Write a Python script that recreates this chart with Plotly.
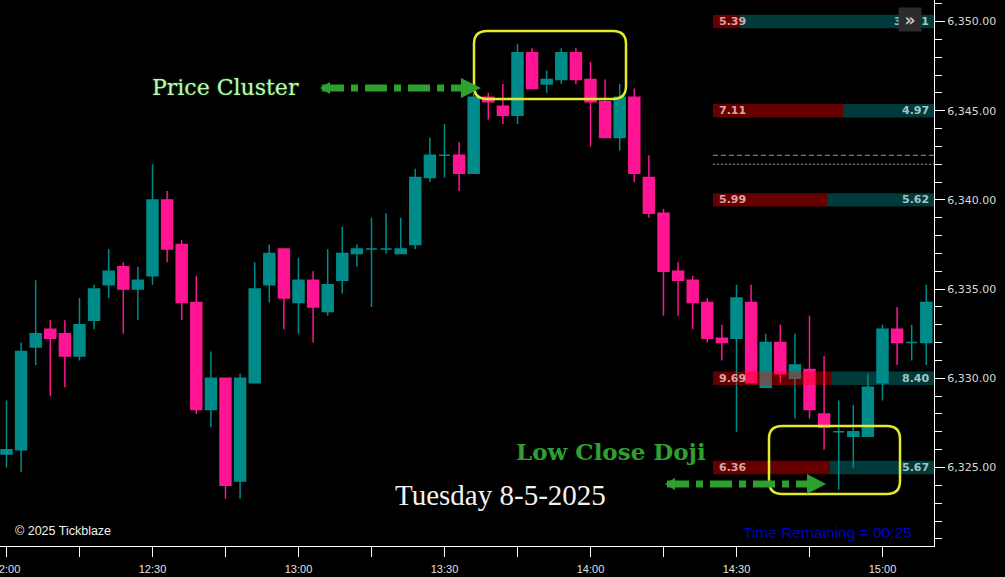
import plotly.graph_objects as go
import pandas as pd

# ---------------- data ----------------
times = pd.date_range("2025-08-05 12:00", periods=64, freq="3min")

opens = [6325.75, 6326.0, 6331.75, 6332.75, 6332.5, 6331.25, 6333.25, 6335.25, 6336.25, 6335.0,
         6335.75, 6340.0, 6337.5, 6334.25, 6328.25, 6330.0, 6324.25, 6329.75, 6335.25, 6337.25,
         6334.25, 6335.5, 6333.75, 6335.5, 6337.0, 6337.25, 6337.25, 6337.0, 6337.5, 6341.25,
         6342.5, 6342.5, 6341.5, 6345.75, 6345.25, 6344.75, 6348.25, 6346.5, 6346.75, 6348.25,
         6346.75, 6345.5, 6343.5, 6345.75, 6341.25, 6339.25, 6336.0, 6335.5, 6334.25, 6332.25,
         6332.25, 6334.25, 6329.5, 6332.0, 6330.0, 6330.5, 6328.0, 6327.0, 6326.75, 6326.75,
         6329.75, 6332.75, 6332.0, 6332.0]
highs = [6328.75, 6332.0, 6335.5, 6333.25, 6333.25, 6334.5, 6335.25, 6337.25, 6336.5, 6336.25,
         6342.0, 6340.5, 6337.75, 6335.75, 6331.5, 6330.0, 6330.25, 6336.5, 6337.5, 6337.25,
         6336.75, 6336.0, 6337.25, 6338.5, 6337.5, 6339.0, 6339.25, 6339.0, 6341.75, 6343.5,
         6344.25, 6343.25, 6346.0, 6346.0, 6346.5, 6348.75, 6348.5, 6347.25, 6348.5, 6348.5,
         6347.75, 6346.75, 6346.5, 6346.25, 6342.5, 6339.5, 6336.5, 6335.75, 6334.5, 6333.0,
         6335.25, 6335.25, 6332.5, 6333.0, 6332.5, 6333.5, 6331.25, 6328.75, 6328.5, 6330.25,
         6333.0, 6334.0, 6333.0, 6335.25]
lows = [6325.0, 6324.75, 6330.75, 6329.0, 6329.5, 6331.0, 6332.75, 6334.5, 6332.5, 6333.25,
        6335.25, 6336.5, 6333.25, 6328.0, 6327.25, 6323.25, 6323.25, 6329.75, 6334.25, 6332.75,
        6332.5, 6332.0, 6333.5, 6334.75, 6336.25, 6334.0, 6337.0, 6337.0, 6337.25, 6341.0,
        6341.25, 6340.5, 6341.5, 6344.5, 6344.25, 6344.25, 6346.25, 6346.0, 6346.5, 6346.5,
        6343.0, 6343.5, 6342.75, 6341.0, 6339.0, 6333.5, 6333.5, 6332.75, 6332.0, 6331.0,
        6327.0, 6329.75, 6329.5, 6329.75, 6327.75, 6327.75, 6326.0, 6323.75, 6325.0, 6326.75,
        6328.75, 6330.75, 6331.0, 6330.75]
closes = [6326.0, 6331.5, 6332.5, 6332.25, 6331.25, 6333.0, 6335.0, 6336.0, 6335.0, 6335.5,
          6340.0, 6337.25, 6334.25, 6328.25, 6330.0, 6324.0, 6330.0, 6335.0, 6337.0, 6334.5,
          6335.5, 6334.0, 6335.25, 6337.0, 6337.25, 6337.25, 6337.25, 6337.25, 6341.25, 6342.5,
          6342.5, 6341.5, 6345.75, 6345.5, 6344.75, 6348.25, 6346.25, 6346.75, 6348.25, 6346.75,
          6345.5, 6343.5, 6345.75, 6341.5, 6339.25, 6336.0, 6335.5, 6334.25, 6332.25, 6332.0,
          6334.5, 6329.75, 6332.0, 6330.25, 6330.75, 6328.25, 6327.25, 6327.0, 6327.0, 6329.5,
          6332.75, 6332.0, 6332.0, 6334.25]

# right-side level bars (sell / buy figures)
levels = [6350, 6345, 6340, 6330, 6325]
sell_vals = [5.39, 7.11, 5.99, 9.69, 6.36]
buy_vals = [38.71, 4.97, 5.62, 8.40, 5.67]
dash_level = 6342.5
dot_level = 6342.0

x_tick_labels = ["12:00", "12:30", "13:00", "13:30", "14:00", "14:30", "15:00"]

# ---------------- styling / geometry ----------------
TEAL = "#008B8B"
PINK = "#FF1493"
PW, PH = 934, 546  # plot area in pixels


def px(x):
    return x / PW


def py(y):
    return 1 - y / PH


def rrect(x0, y0, x1, y1, r):
    p = lambda x, y: f"{px(x):.5f},{py(y):.5f}"
    return (f"M{p(x0 + r, y0)} L{p(x1 - r, y0)} Q{p(x1, y0)} {p(x1, y0 + r)} "
            f"L{p(x1, y1 - r)} Q{p(x1, y1)} {p(x1 - r, y1)} L{p(x0 + r, y1)} "
            f"Q{p(x0, y1)} {p(x0, y1 - r)} L{p(x0, y0 + r)} Q{p(x0, y0)} {p(x0 + r, y0)} Z")


def tri(pts):
    s = " L".join(f"{px(x):.5f},{py(y):.5f}" for x, y in pts)
    return "M" + s + " Z"


# split dojis (drawn teal) from the rest
is_doji = [o == c for o, c in zip(opens, closes)]
idx_main = [i for i in range(len(opens)) if not is_doji[i]]
idx_doji = [i for i in range(len(opens)) if is_doji[i]]

fig = go.Figure()

fig.add_trace(go.Candlestick(
    x=[times[i] for i in idx_main],
    open=[opens[i] for i in idx_main], high=[highs[i] for i in idx_main],
    low=[lows[i] for i in idx_main], close=[closes[i] for i in idx_main],
    increasing=dict(line=dict(color=TEAL, width=1.5), fillcolor=TEAL),
    decreasing=dict(line=dict(color=PINK, width=1.5), fillcolor=PINK),
    whiskerwidth=0, showlegend=False, hoverinfo="skip"))

fig.add_trace(go.Candlestick(
    x=[times[i] for i in idx_doji],
    open=[opens[i] for i in idx_doji], high=[highs[i] for i in idx_doji],
    low=[lows[i] for i in idx_doji], close=[closes[i] for i in idx_doji],
    increasing=dict(line=dict(color=TEAL, width=1.5), fillcolor=TEAL),
    decreasing=dict(line=dict(color=TEAL, width=1.5), fillcolor=TEAL),
    whiskerwidth=0, showlegend=False, hoverinfo="skip"))

# level bars on an overlaying fraction axis
bar_start = 713 / PW
span = 1 - bar_start
red_w = [span * s / (s + b) for s, b in zip(sell_vals, buy_vals)]
teal_w = [span - r for r in red_w]
teal_base = [bar_start + r for r in red_w]

fig.add_trace(go.Bar(y=levels, x=red_w, base=bar_start, orientation="h", width=0.75,
                     marker=dict(color="rgba(255,0,0,0.4)", line=dict(width=0)),
                     xaxis="x2", yaxis="y", showlegend=False, hoverinfo="skip"))
fig.add_trace(go.Bar(y=levels, x=teal_w, base=teal_base, orientation="h", width=0.75,
                     marker=dict(color="rgba(0,139,139,0.42)", line=dict(width=0)),
                     xaxis="x2", yaxis="y", showlegend=False, hoverinfo="skip"))

fig.add_trace(go.Scatter(x=[bar_start, 1], y=[dash_level, dash_level], mode="lines",
                         line=dict(color="#e8755a", width=1, dash="5px,3px"),
                         xaxis="x2", yaxis="y", showlegend=False, hoverinfo="skip"))
fig.add_trace(go.Scatter(x=[bar_start, 1], y=[dot_level, dot_level], mode="lines",
                         line=dict(color="#a0a0a0", width=1, dash="2px,2px"),
                         xaxis="x2", yaxis="y", showlegend=False, hoverinfo="skip"))

annotations = []
for lv, s, b in zip(levels, sell_vals, buy_vals):
    annotations.append(dict(x=bar_start + 4 / PW, y=lv, xref="x2", yref="y", text=f"{s:.2f}",
                            showarrow=False, xanchor="left", yanchor="middle",
                            font=dict(family="DejaVu Sans", size=11, color="#d9a3a3", weight="bold")))
    annotations.append(dict(x=1 - 3 / PW, y=lv, xref="x2", yref="y", text=f"{b:.2f}",
                            showarrow=False, xanchor="right", yanchor="middle",
                            font=dict(family="DejaVu Sans", size=11, color="#a6c4c4", weight="bold")))

# button overlay
annotations.append(dict(x=px(910), y=py(20), xref="paper", yref="paper", text="»",
                        showarrow=False, xanchor="center", yanchor="middle", width=22, height=23,
                        bgcolor="#2c2c2c", borderpad=0,
                        font=dict(family="DejaVu Sans", size=17, color="#c8c8c8", weight="bold")))

annotations += [
    dict(x=px(225), y=py(88), xref="paper", yref="paper", text="Price Cluster", showarrow=False,
         xanchor="center", yanchor="middle",
         font=dict(family="DejaVu Serif", size=22, color="#c4f5b8", shadow="0px 0px 2px #1d8f1d")),
    dict(x=px(611), y=py(451), xref="paper", yref="paper", text="Low Close Doji", showarrow=False,
         xanchor="center", yanchor="middle",
         font=dict(family="DejaVu Serif", size=23, color="#2ea02e", weight="bold")),
    dict(x=px(500), y=py(495), xref="paper", yref="paper", text="Tuesday 8-5-2025", showarrow=False,
         xanchor="center", yanchor="middle",
         font=dict(family="Liberation Serif", size=29, color="#f2f2f2")),
    dict(x=px(13), y=py(531), xref="paper", yref="paper", text="© 2025 Tickblaze", showarrow=False,
         xanchor="left", yanchor="middle",
         font=dict(family="Liberation Sans", size=12.5, color="#f0f0f0")),
    dict(x=px(741), y=py(532), xref="paper", yref="paper", text="Time Remaining = 00:25", showarrow=False,
         xanchor="left", yanchor="middle",
         font=dict(family="Liberation Sans", size=15.5, color="#0000c8")),
]

GREEN = "#2ea02e"
YEL = "#e2ea2a"
shapes = [
    dict(type="path", xref="paper", yref="paper", path=rrect(474, 31, 626, 99, 13),
         line=dict(color=YEL, width=2.5)),
    dict(type="path", xref="paper", yref="paper", path=rrect(769, 426, 900, 494, 13),
         line=dict(color=YEL, width=2.5)),
    # arrow 1
    dict(type="line", xref="paper", yref="paper", x0=px(322), x1=px(466), y0=py(88), y1=py(88),
         line=dict(color=GREEN, width=7, dash="22px,7px,7px,7px")),
    dict(type="path", xref="paper", yref="paper", path=tri([(320, 88), (330, 82), (330, 94)]),
         fillcolor=GREEN, line=dict(width=0)),
    dict(type="path", xref="paper", yref="paper", path=tri([(481, 88), (461, 78), (461, 98)]),
         fillcolor=GREEN, line=dict(width=0)),
    # arrow 2
    dict(type="line", xref="paper", yref="paper", x0=px(667), x1=px(812), y0=py(484), y1=py(484),
         line=dict(color=GREEN, width=7, dash="22px,7px,7px,7px")),
    dict(type="path", xref="paper", yref="paper", path=tri([(665, 484), (675, 478), (675, 490)]),
         fillcolor=GREEN, line=dict(width=0)),
    dict(type="path", xref="paper", yref="paper", path=tri([(826, 484), (807, 474), (807, 494)]),
         fillcolor=GREEN, line=dict(width=0)),
]

tickvals = [t for t in times if t.minute % 30 == 0][:len(x_tick_labels)]

fig.update_layout(
    width=1005, height=577,
    margin=dict(l=0, r=71, t=0, b=31),
    paper_bgcolor="#000000", plot_bgcolor="#000000",
    showlegend=False, barmode="overlay", boxgap=0.25, boxgroupgap=0,
    annotations=annotations, shapes=shapes,
    xaxis=dict(
        range=["2025-08-05 11:58:40", "2025-08-05 15:10:35"],
        rangeslider=dict(visible=False), automargin=False,
        tickvals=tickvals, ticktext=x_tick_labels,
        ticks="outside", ticklen=10, tickcolor="#ffffff", tickwidth=1,
        minor=dict(dtick=15 * 60 * 1000, ticks="outside", ticklen=10, tickcolor="#ffffff", showgrid=False),
        showline=True, linecolor="#ffffff", linewidth=1,
        showgrid=False, zeroline=False, ticklabeloverflow="allow", ticklabelstandoff=3,
        tickfont=dict(family="Liberation Sans", size=11, color="#e0e0e0"),
    ),
    xaxis2=dict(overlaying="x", range=[0, 1], visible=False),
    yaxis=dict(
        side="right", range=[6320.60, 6351.205], automargin=False,
        tick0=6325, dtick=5, tickformat=",.2f",
        ticks="outside", ticklen=10, tickcolor="#ffffff", tickwidth=1,
        minor=dict(dtick=1, ticks="outside", ticklen=7, tickcolor="#ffffff", showgrid=False),
        showline=True, linecolor="#ffffff", linewidth=1,
        showgrid=False, zeroline=False,
        tickfont=dict(family="DejaVu Sans", size=11, color="#d8d8d8"),
    ),
)

fig.write_html("out.html", config={"displayModeBar": False},
               post_script="document.body.style.margin='0';document.body.style.overflow='hidden';")
